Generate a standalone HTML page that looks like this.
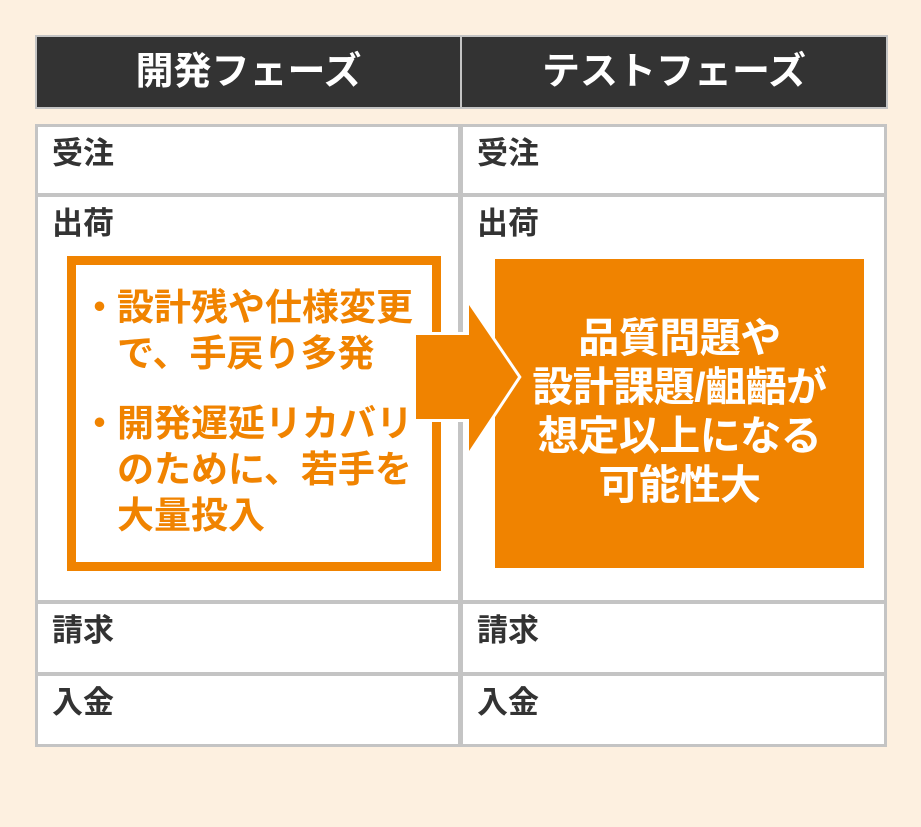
<!DOCTYPE html>
<html><head><meta charset="utf-8"><style>
body{margin:0;width:921px;height:827px;background:#fdf0e0;position:relative;overflow:hidden;font-family:"Liberation Sans","Noto Sans CJK JP",sans-serif;font-weight:bold}
.a{position:absolute}
.hd{background:#333;color:#fff;font-size:38px;text-align:center;line-height:70px;top:35px;height:70px;border:2px solid #c4c4c4}
.c{background:#fff;border:1.5px solid #c4c4c4;box-sizing:border-box;color:#333;font-size:31px;padding:7px 0 0 14px;line-height:40px}
.lb{color:#f08300;font-size:37px;line-height:46px;letter-spacing:0}
</style></head><body>
<div class="a hd" style="left:35px;width:423px;">開発フェーズ</div>
<div class="a hd" style="left:460px;width:424px;">テストフェーズ</div>
<div class="a" style="left:35px;top:124px;width:852px;height:623px;background:#c4c4c4"></div>
<div class="a c" style="left:37px;top:126px;width:422px;height:68px">受注</div>
<div class="a c" style="left:462px;top:126px;width:423px;height:68px">受注</div>
<div class="a c" style="left:37px;top:196px;width:422px;height:405px">出荷</div>
<div class="a c" style="left:462px;top:196px;width:423px;height:405px">出荷</div>
<div class="a c" style="left:37px;top:603px;width:422px;height:70px">請求</div>
<div class="a c" style="left:462px;top:603px;width:423px;height:70px">請求</div>
<div class="a c" style="left:37px;top:675px;width:422px;height:70px">入金</div>
<div class="a c" style="left:462px;top:675px;width:423px;height:70px">入金</div>
<div class="a" style="left:67px;top:256px;width:356px;height:297px;border:9px solid #f08300;background:#fff"></div>
<div class="a lb" style="left:81px;top:285px;width:380px">
<div style="display:flex"><span style="width:36px">・</span><span>設計残や仕様変更<br>で、手戻り多発</span></div>
<div style="display:flex;margin-top:24px"><span style="width:36px">・</span><span>開発遅延リカバリ<br>のために、若手を<br>大量投入</span></div>
</div>
<div class="a" style="left:495px;top:259px;width:369px;height:309px;background:#f08300"></div>
<svg class="a" style="left:0;top:0" width="921" height="827"><polygon points="416,335 469,335 469,305 518,377 469,451 469,419 416,419" fill="#f08300" stroke="#fff" stroke-width="6" stroke-linejoin="miter"/><polygon points="416,335 469,335 469,305 518,377 469,451 469,419 416,419" fill="#f08300"/></svg>
<div class="a" style="left:480px;top:314px;width:399px;text-align:center;color:#fff;font-size:41px;line-height:49px;letter-spacing:-0.5px">品質問題や<br>設計課題/齟齬が<br>想定以上になる<br>可能性大</div>
</body></html>
